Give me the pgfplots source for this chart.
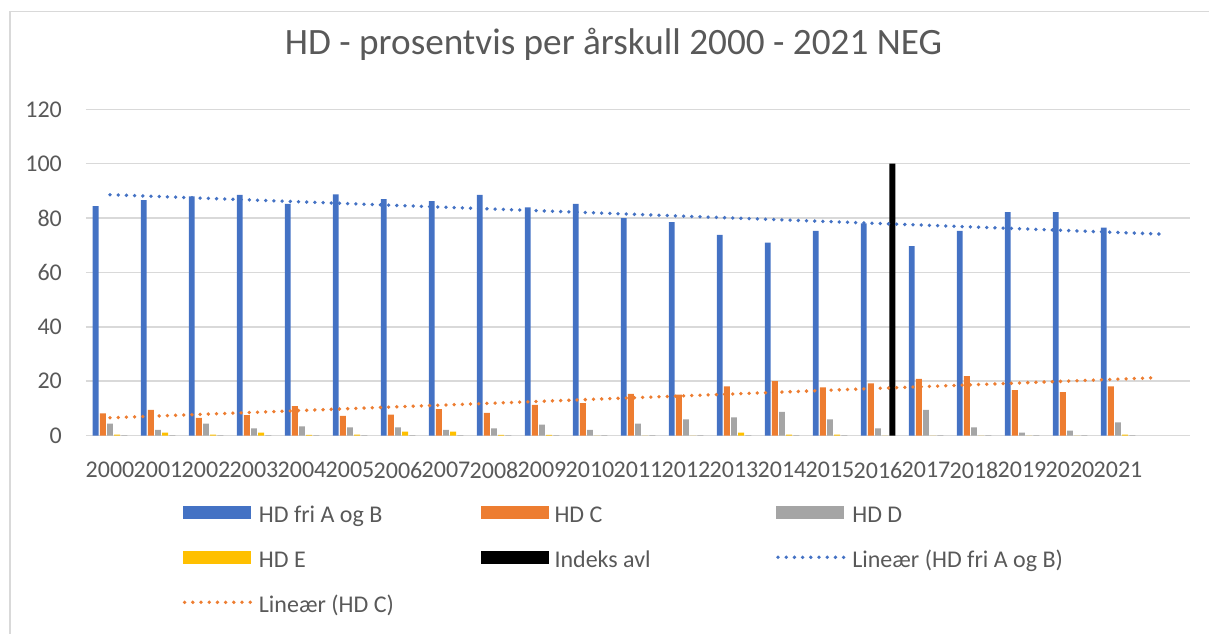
\documentclass[border=0pt]{standalone}
\usepackage{fontspec}
\setmainfont{Carlito}
\usepackage{pgfplots}
\usepackage{pgfplotstable}
\pgfplotsset{compat=1.18}

\definecolor{cA}{HTML}{4472C4}
\definecolor{cC}{HTML}{ED7D31}
\definecolor{cD}{HTML}{A5A5A5}
\definecolor{cE}{HTML}{FFC000}
\definecolor{gridgray}{HTML}{D9D9D9}
\definecolor{txt}{HTML}{595959}

% x = year - 2000; A = HD fri A og B, C/D/E = HD C/D/E, I = Indeks avl
\pgfplotstableread{
x  A     C     D    E    I
0  84.4  8.1   4.4  0.3  0
1  86.6  9.4   2.1  1.1  0
2  88.0  6.5   4.4  0.3  0
3  88.5  7.5   2.6  1.1  0
4  85.2  10.8  3.4  0.2  0
5  88.7  7.2   3.0  0.3  0
6  87.0  7.7   3.0  1.4  0
7  86.2  9.7   2.1  1.4  0
8  88.5  8.3   2.6  0.2  0
9  83.9  11.3  4.0  0.2  0
10 85.2  11.9  2.1  0    0
11 80.0  15.3  4.4  0    0
12 78.5  15.0  5.9  0    0
13 73.8  18.1  6.7  1.1  0
14 71.0  20.0  8.7  0.3  0
15 75.3  17.7  5.9  0.3  0
16 78.0  19.2  2.6  0    100
17 69.7  20.8  9.4  0    0
18 75.3  21.8  3.0  0    0
19 82.2  16.7  1.1  0    0
20 82.2  16.0  1.8  0    0
21 76.5  18.1  4.8  0.3  0
}\hddata

\newcommand{\legtxt}[1]{\makebox[110.8pt][l]{#1}}

\pgfplotsset{
  hdbar/.style={ybar, bar width=2.95pt, draw=none,
    legend image code/.code={\fill[##1, draw=none] (0pt,-1.5pt) rectangle (34pt,5.3pt);}},
  trend/.style={line width=1.9pt, line cap=round, dash pattern=on 0pt off 4.1pt,
    legend image code/.code={\draw[##1] (0.8pt,1.9pt) -- (34pt,1.9pt);}},
}

\begin{document}
\begin{tikzpicture}
\begin{axis}[
  at={(0pt,0pt)}, anchor=south west,
  scale only axis, width=552pt, height=163.1pt,
  xmin=-0.5, xmax=22.5, ymin=0, ymax=120,
  xtick={0,...,21},
  xticklabels={2000,2001,2002,2003,2004,2005,2006,2007,2008,2009,2010,2011,2012,2013,2014,2015,2016,2017,2018,2019,2020,2021},
  ytick={0,20,...,120},
  ymajorgrids, grid style={gridgray, line width=0.75pt},
  axis x line*=bottom, axis y line*=left,
  axis line style={-},
  x axis line style={gridgray, line width=0.75pt},
  y axis line style={draw=none},
  major tick length=0pt,
  /pgf/number format/assume math mode=true,
  tick label style={font=\fontsize{12}{14}\selectfont, text=txt},
  yticklabel style={anchor=east, inner sep=0pt, xshift=-11.85pt},
  xticklabel style={anchor=north, inner sep=0pt, yshift=-13.15pt},
  title={HD - prosentvis per årskull 2000 - 2021 NEG},
  title style={at={(0.4778,1.1306)}, anchor=base, inner sep=0pt,
    font=\fontsize{18.6}{22}\selectfont, text=txt},
  legend columns=3,
  legend cell align=left,
  legend style={at={(0.0876,-0.2118)}, anchor=north west, draw=none, fill=none,
    inner sep=0pt, outer sep=0pt, row sep=11pt,
    font=\fontsize{12}{14}\selectfont, text=txt,
    nodes={inner sep=0pt, text height=8.7pt, text depth=2.8pt},
    /tikz/every odd column/.style={column sep=3pt}},
]
\addplot[hdbar, fill=cA, bar shift=-7.15pt] table[x=x, y=A] {\hddata};
\addlegendentry{\legtxt{HD fri A og B}}
\addplot[hdbar, fill=cC, bar shift=-3.575pt] table[x=x, y=C] {\hddata};
\addlegendentry{\legtxt{HD C}}
\addplot[hdbar, fill=cD, bar shift=0pt] table[x=x, y=D] {\hddata};
\addlegendentry{\legtxt{HD D}}
\addplot[hdbar, fill=cE, bar shift=3.575pt] table[x=x, y=E] {\hddata};
\addlegendentry{\legtxt{HD E}}
\addplot[hdbar, fill=black, bar shift=7.15pt] table[x=x, y=I] {\hddata};
\addlegendentry{\legtxt{Indeks avl}}
\addplot[trend, cA] coordinates {(0,88.6) (21.9,74.1)};
\addlegendentry{\legtxt{Lineær (HD fri A og B)}}
\addplot[trend, cC] coordinates {(0,6.5) (21.85,21.3)};
\addlegendentry{\legtxt{Lineær (HD C)}}
\end{axis}
\draw[gridgray, line width=0.75pt] (-38pt,-130pt) rectangle (580pt,211.9pt);
\pgfresetboundingbox
\useasboundingbox (-43pt,-98.75pt) rectangle (561.5pt,217.75pt);
\end{tikzpicture}
\end{document}
